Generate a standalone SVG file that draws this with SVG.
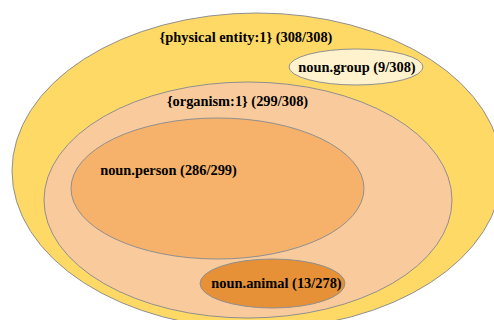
<svg xmlns="http://www.w3.org/2000/svg" width="494" height="320" viewBox="0 0 494 320">
<style>
.e{stroke:#8f8f8f;stroke-width:1}
.t{font-family:"Liberation Serif","Times New Roman",serif;font-weight:bold;font-size:14.4px;fill:#000;text-anchor:middle}
</style>
<rect width="494" height="320" fill="#fff"/>
<g id="physical-entity">
<ellipse class="e" cx="257" cy="171" rx="245" ry="158" fill="#FFD966"/>
<text class="t" x="246" y="42">{physical entity:1} (308/308)</text>
</g>
<g id="noun-group">
<ellipse class="e" cx="356" cy="67" rx="67" ry="18" fill="#FFF2CC"/>
<text class="t" x="357" y="72">noun.group (9/308)</text>
</g>
<g id="organism">
<ellipse class="e" cx="248" cy="200" rx="204" ry="118" fill="#F9CB9C"/>
<text class="t" x="237.5" y="106">{organism:1} (299/308)</text>
</g>
<g id="noun-person">
<ellipse class="e" cx="217.5" cy="188.5" rx="146.5" ry="70.5" fill="#F6B26B"/>
<text class="t" x="168.5" y="175">noun.person (286/299)</text>
</g>
<g id="noun-animal">
<ellipse class="e" cx="272.5" cy="283.5" rx="72.5" ry="24.5" fill="#E69138"/>
<text class="t" x="276.5" y="288">noun.animal (13/278)</text>
</g>
<g id="connectors"/>
</svg>
